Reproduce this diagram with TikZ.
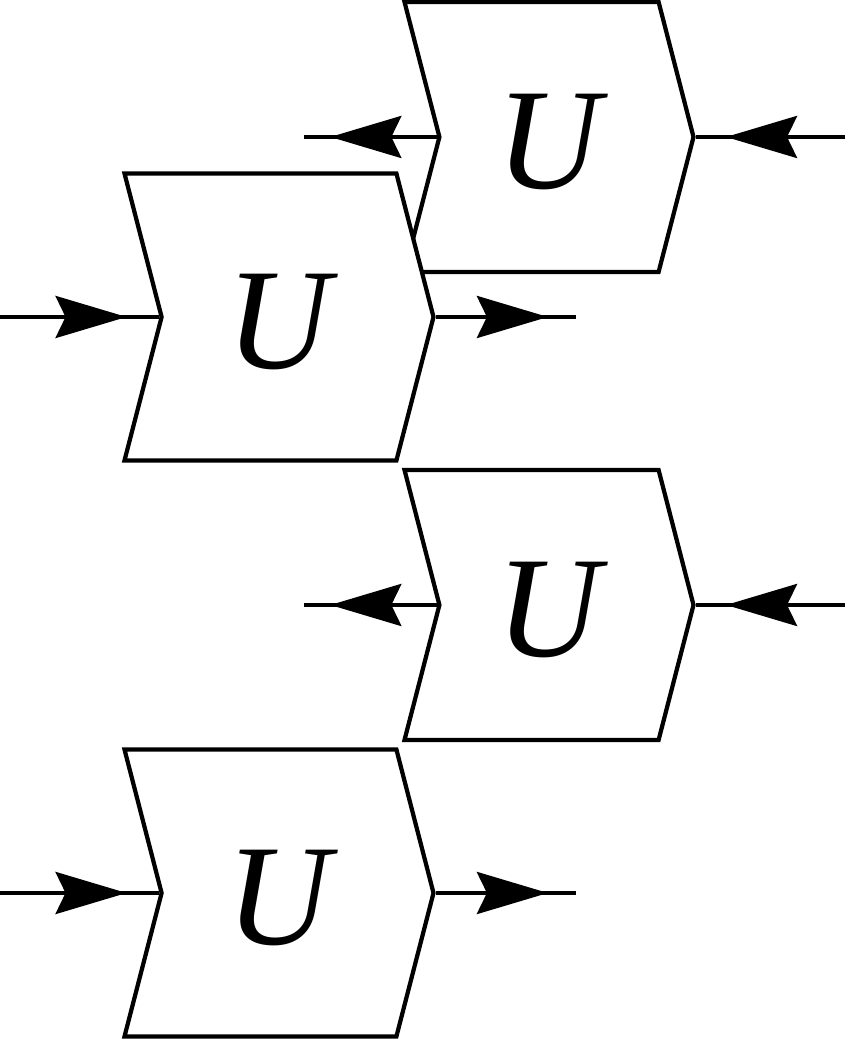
\documentclass[tikz,border=0pt]{standalone}
\usepackage{fontspec}
\setmainfont{Liberation Serif}
\usetikzlibrary{arrows.meta,shapes.symbols,decorations.markings}

\begin{document}
\begin{tikzpicture}[
    very thick,
    gate/.style = {
      draw,
      fill = white,
      shape = signal,
      signal from = west,
      signal to = east,
      signal pointer angle = 151,
      inner sep = 0pt,
      text height = 1.03cm,
      text depth = 0pt,
      font = \fontsize{41}{45}\selectfont\itshape
    },
    leftgate/.style = {
      gate,
      minimum width = 3.09cm,
      minimum height = 2.87cm
    },
    rightgate/.style = {
      gate,
      minimum width = 2.89cm,
      minimum height = 2.70cm
    },
    wire/.style = {
      postaction = {decorate},
      decoration = {markings,
        mark = at position 0.75 with {\pgftransformxshift{0.7mm}%
          \arrow{Stealth[length=7.1mm,width=4.2mm,inset=1mm]}}}
    }
  ]
  \useasboundingbox (0,0) rectangle (8.45,10.40);

  % the upper box sits behind the left one
  \node[rightgate] (u1) at (5.49,9.03) {U};
  \node[leftgate]  (u2) at (2.79,7.23) {U};
  \node[rightgate] (u3) at (5.49,4.35) {U};
  \node[leftgate]  (u4) at (2.79,1.47) {U};

  \coordinate (in1)  at (8.45,9.03);
  \coordinate (out1) at (3.04,9.03);
  \coordinate (in2)  at (0,7.23);
  \coordinate (out2) at (5.76,7.23);
  \coordinate (in3)  at (8.45,4.35);
  \coordinate (out3) at (3.04,4.35);
  \coordinate (in4)  at (0,1.47);
  \coordinate (out4) at (5.76,1.47);

  \draw[wire] (in1) -- (u1.east);
  \draw[wire] (u1.west) -- (out1);
  \draw[wire] (in2) -- (u2.west);
  \draw[wire] (u2.east) -- (out2);
  \draw[wire] (in3) -- (u3.east);
  \draw[wire] (u3.west) -- (out3);
  \draw[wire] (in4) -- (u4.west);
  \draw[wire] (u4.east) -- (out4);
\end{tikzpicture}
\end{document}
